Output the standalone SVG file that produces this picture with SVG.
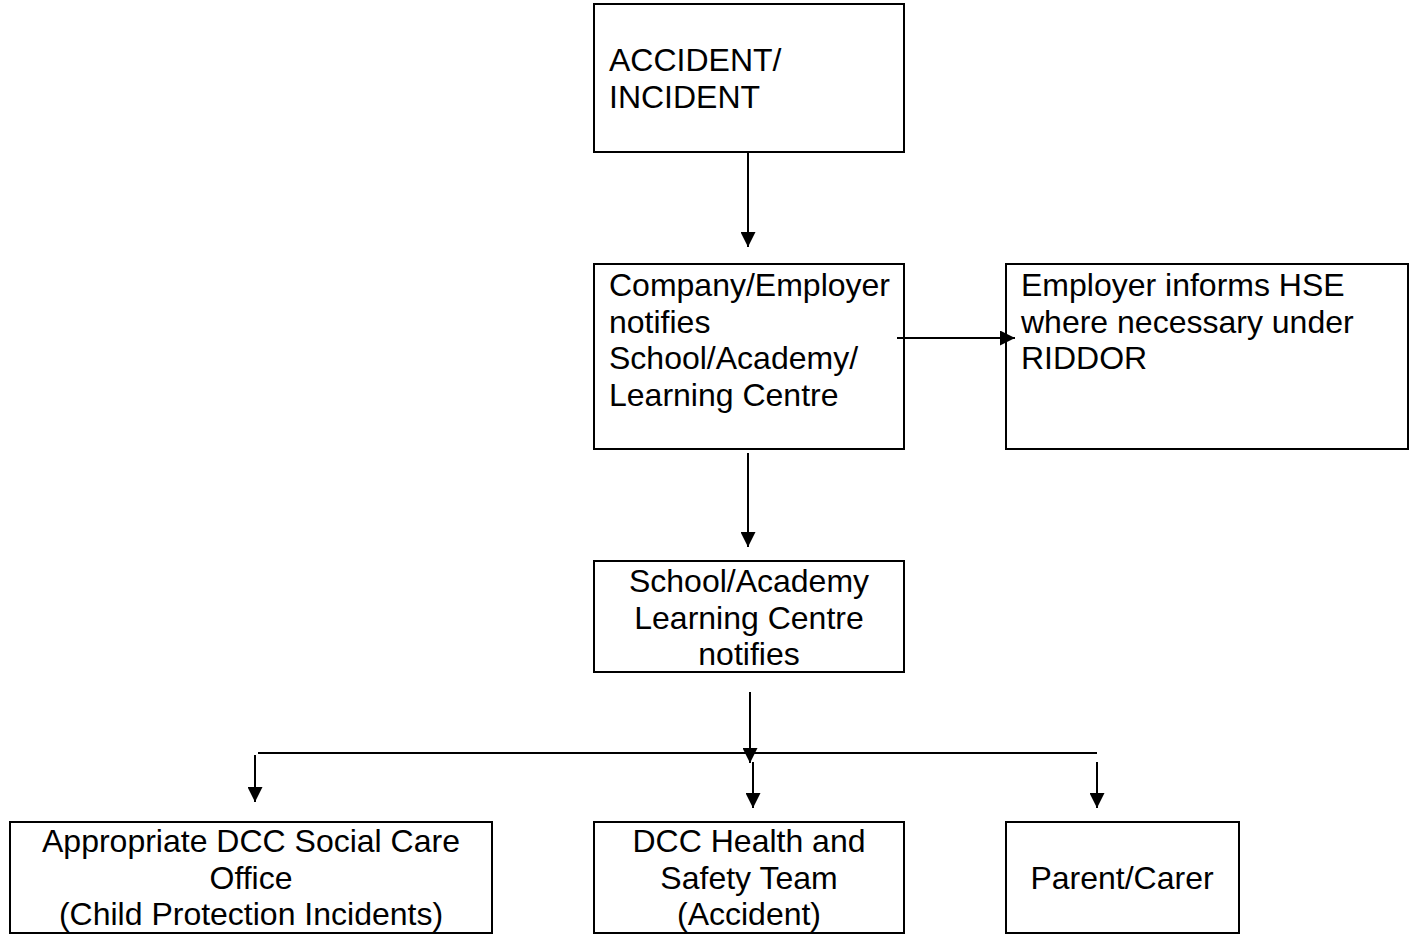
<svg xmlns="http://www.w3.org/2000/svg" width="1414" height="935" viewBox="0 0 1414 935">
<style>
.box{fill:#fff;stroke:#000;stroke-width:2}
.t{font-family:"Liberation Sans",Arial,sans-serif;font-size:32px;fill:#000}
.c{text-anchor:middle}
.ln{stroke:#000;stroke-width:2;fill:none}
.ar{marker-end:url(#ah)}
</style>
<defs>
<marker id="ah" markerUnits="userSpaceOnUse" markerWidth="15" markerHeight="15" refX="15" refY="7.5" orient="auto">
<path d="M0,0 L15,7.5 L0,15 z" fill="#000"/>
</marker>
</defs>
<rect width="1414" height="935" fill="#fff"/>
<g id="accident">
<rect class="box" x="594" y="4" width="310" height="148"/>
<text class="t" x="609" y="71">ACCIDENT/</text>
<text class="t" x="609" y="108">INCIDENT</text>
</g>
<g id="employer">
<rect class="box" x="594" y="264" width="310" height="185"/>
<text class="t" x="609" y="296">Company/Employer</text>
<text class="t" x="609" y="333">notifies</text>
<text class="t" x="609" y="369">School/Academy/</text>
<text class="t" x="609" y="406">Learning Centre</text>
</g>
<g id="hse">
<rect class="box" x="1006" y="264" width="402" height="185"/>
<text class="t" x="1021" y="296">Employer informs HSE</text>
<text class="t" x="1021" y="333">where necessary under</text>
<text class="t" x="1021" y="369">RIDDOR</text>
</g>
<g id="school">
<rect class="box" x="594" y="561" width="310" height="111"/>
<text class="t c" x="749" y="592">School/Academy</text>
<text class="t c" x="749" y="629">Learning Centre</text>
<text class="t c" x="749" y="665">notifies</text>
</g>
<g id="socialcare">
<rect class="box" x="10" y="822" width="482" height="111"/>
<text class="t c" x="251" y="852">Appropriate DCC Social Care</text>
<text class="t c" x="251" y="889">Office</text>
<text class="t c" x="251" y="925">(Child Protection Incidents)</text>
</g>
<g id="healthsafety">
<rect class="box" x="594" y="822" width="310" height="111"/>
<text class="t c" x="749" y="852">DCC Health and</text>
<text class="t c" x="749" y="889">Safety Team</text>
<text class="t c" x="749" y="925">(Accident)</text>
</g>
<g id="parent">
<rect class="box" x="1006" y="822" width="233" height="111"/>
<text class="t c" x="1122" y="889">Parent/Carer</text>
</g>
<g id="connectors">
<line class="ln ar" x1="748" y1="152" x2="748" y2="247"/>
<line class="ln ar" x1="897" y1="338" x2="1015" y2="338"/>
<line class="ln ar" x1="748" y1="453" x2="748" y2="547"/>
<line class="ln ar" x1="750" y1="692" x2="750" y2="763"/>
<line class="ln" x1="258" y1="753" x2="1097" y2="753"/>
<line class="ln ar" x1="255" y1="755" x2="255" y2="802"/>
<line class="ln ar" x1="753" y1="762" x2="753" y2="808"/>
<line class="ln ar" x1="1097" y1="762" x2="1097" y2="808"/>
</g>
</svg>
